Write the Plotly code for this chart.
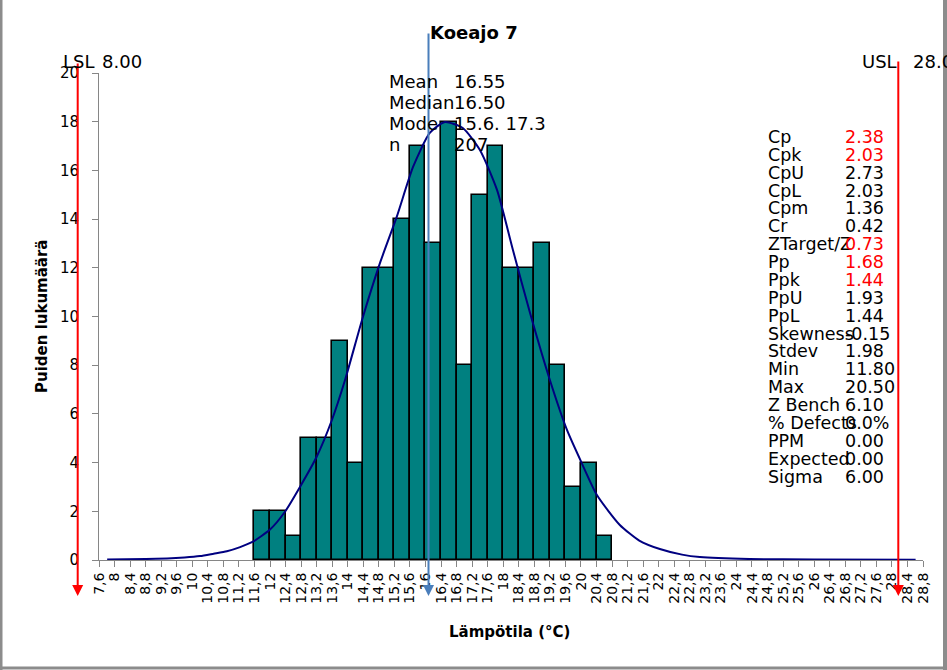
import plotly.graph_objects as go

# ---------------- data ----------------
tick_labels = ["7,6", "8", "8,4", "8,8", "9,2", "9,6", "10", "10,4", "10,8", "11,2",
               "11,6", "12", "12,4", "12,8", "13,2", "13,6", "14", "14,4", "14,8", "15,2",
               "15,6", "16", "16,4", "16,8", "17,2", "17,6", "18", "18,4", "18,8", "19,2",
               "19,6", "20", "20,4", "20,8", "21,2", "21,6", "22", "22,4", "22,8", "23,2",
               "23,6", "24", "24,4", "24,8", "25,2", "25,6", "26", "26,4", "26,8", "27,2",
               "27,6", "28", "28,4", "28,8"]

bin_lower = [11.6, 12.0, 12.4, 12.8, 13.2, 13.6, 14.0, 14.4, 14.8, 15.2, 15.6, 16.0,
             16.4, 16.8, 17.2, 17.6, 18.0, 18.4, 18.8, 19.2, 19.6, 20.0, 20.4]
bin_counts = [2, 2, 1, 5, 5, 9, 4, 12, 12, 14, 17, 13, 18, 8, 15, 17, 12, 12, 13, 8, 3, 4, 1]
bin_width = 0.4

curve_x = [7.81, 8.80, 9.35, 9.80, 10.20, 10.55, 10.89, 11.23, 11.56, 12.00, 12.38,
           12.77, 13.20, 13.59, 13.93, 14.39, 14.83, 15.26, 15.68, 16.11, 16.50, 16.96,
           17.40, 17.84, 18.25, 18.69, 19.20, 19.64, 20.02, 20.41, 21.00, 21.50, 22.03,
           22.60, 23.06, 24.34, 26.00, 28.61]
curve_y = [0.02, 0.04, 0.06, 0.10, 0.16, 0.26, 0.36, 0.53, 0.75, 1.25, 1.97,
           3.00, 4.24, 5.74, 7.39, 9.98, 12.20, 14.09, 16.14, 17.54, 17.99, 17.74,
           16.84, 15.20, 12.73, 10.14, 7.39, 5.34, 3.98, 2.67, 1.44, 0.80, 0.45,
           0.22, 0.12, 0.04, 0.02, 0.01]

LSL = 8.00
USL = 28.00
MEAN = 16.55

summary_labels = ["Mean", "Median", "Mode", "n"]
summary_values = ["16.55", "16.50", "15.6. 17.3", "207"]

stat_labels = ["Cp", "Cpk", "CpU", "CpL", "Cpm", "Cr", "ZTarget/Z", "Pp", "Ppk", "PpU",
               "PpL", "Skewness", "Stdev", "Min", "Max", "Z Bench", "% Defects", "PPM",
               "Expected", "Sigma"]
stat_values = ["2.38", "2.03", "2.73", "2.03", "1.36", "0.42", "0.73", "1.68", "1.44", "1.93",
               "1.44", "-0.15", "1.98", "11.80", "20.50", "6.10", "0.0%", "0.00",
               "0.00", "6.00"]
stat_red = ["Cp", "Cpk", "ZTarget/Z", "Pp", "Ppk"]

tick_vals = [float(t.replace(",", ".")) for t in tick_labels]

# ---------------- layout helpers ----------------
W, H = 947, 670
ML, MR = 40, 947          # paper (margin box) horizontal extent in pixels
PL, PR, PT, PB = 99, 923, 73, 560   # main plot area in pixels

# spec-limit axis: value -> pixel is 77.7 + (v - 8) * 41.03
X2_LO = 8 + (ML - 77.7) / 41.03
X2_HI = 8 + (MR - 77.7) / 41.03


def px(x):
    return (x - ML) / (MR - ML)


def py(y):
    return (PB - y) / (PB - PT)


FONT = "DejaVu Sans"

fig = go.Figure()

fig.add_trace(go.Bar(
    x=bin_lower, y=bin_counts, width=bin_width, offset=0,
    marker=dict(color="#008080", line=dict(color="#000000", width=1.6)),
    hoverinfo="skip", showlegend=False,
))

fig.add_trace(go.Scatter(
    x=curve_x, y=curve_y, mode="lines",
    line=dict(color="#000080", width=2, shape="spline", smoothing=0.6),
    hoverinfo="skip", showlegend=False,
))

# invisible trace on the spec-limit axes
fig.add_trace(go.Scatter(
    x=[LSL, USL], y=[0, 0], xaxis="x2", yaxis="y2", mode="markers",
    marker=dict(opacity=0), hoverinfo="skip", showlegend=False,
))

annotations = []


def varrow(xval, top, tip, color):
    return dict(x=xval, xref="x2", y=py(tip), yref="paper",
                ax=0, ay=-(tip - top), axref="pixel", ayref="pixel",
                showarrow=True, arrowhead=2, arrowsize=1.1, arrowwidth=2,
                arrowcolor=color, text="", standoff=0, startstandoff=0)


annotations.append(varrow(LSL, 62, 596, "#ff0000"))
annotations.append(varrow(USL, 60, 596, "#ff0000"))
annotations.append(varrow(MEAN, 32, 596, "#4a7ebb"))


def txt(x, y, s, size=18, color="black", bold=False, xanchor="left", angle=0):
    return dict(x=px(x), y=py(y), xref="paper", yref="paper", text=s,
                showarrow=False, xanchor=xanchor, yanchor="middle", textangle=angle,
                font=dict(family=FONT, size=size, color=color,
                          weight="bold" if bold else "normal"))


annotations.append(txt(61, 61, "LSL"))
annotations.append(txt(100, 61, f"{LSL:.2f}"))
annotations.append(txt(860, 61, "USL"))
annotations.append(txt(911, 61, f"{USL:.2f}"))

for i, (lab, val) in enumerate(zip(summary_labels, summary_values)):
    y = 81 + i * 21.3
    annotations.append(txt(387, y, lab))
    annotations.append(txt(452, y, val))

for i, (lab, val) in enumerate(zip(stat_labels, stat_values)):
    y = 137 + i * 17.87
    annotations.append(txt(766, y, lab, size=17.5))
    annotations.append(txt(843, y, val, size=17.5,
                           color="#ff0000" if lab in stat_red else "black"))

annotations.append(txt(474, 33, "Koeajo 7", size=18, bold=True, xanchor="center"))
annotations.append(txt(509, 632, "Lämpötila (°C)", size=15, bold=True, xanchor="center"))
annotations.append(txt(42, 316, "Puiden lukumäärä", size=15, bold=True, xanchor="center", angle=-90))

shapes = [
    dict(type="line", xref="paper", yref="paper", x0=px(1), x1=px(1), y0=py(0), y1=py(H),
         line=dict(color="#8c8c8c", width=3)),
    dict(type="line", xref="paper", yref="paper", x0=px(945), x1=px(945), y0=py(0), y1=py(H),
         line=dict(color="#8c8c8c", width=4)),
    dict(type="line", xref="paper", yref="paper", x0=px(0), x1=px(W), y0=py(668), y1=py(668),
         line=dict(color="#8c8c8c", width=3)),
]

axis_common = dict(showgrid=False, zeroline=False, showline=True, linecolor="#868686",
                   linewidth=1, ticks="outside", ticklen=6, tickcolor="#868686",
                   tickwidth=1, automargin=False)

fig.update_layout(
    width=W, height=H,
    margin=dict(l=ML, r=W - MR, t=PT, b=H - PB, pad=0, autoexpand=False),
    paper_bgcolor="white", plot_bgcolor="rgba(0,0,0,0)",
    showlegend=False, bargap=0,
    xaxis=dict(domain=[px(PL), px(PR)], anchor="y", range=[7.6, 28.8], tickmode="array",
               tickvals=tick_vals, ticktext=tick_labels, tickangle=-90,
               tickfont=dict(family=FONT, size=14, color="black"), **axis_common),
    yaxis=dict(domain=[0, 1], anchor="x", range=[0, 20], dtick=2, tick0=0,
               ticklabelstandoff=10,
               tickfont=dict(family=FONT, size=15, color="black"), **axis_common),
    xaxis2=dict(domain=[0, 1], anchor="y2", range=[X2_LO, X2_HI], visible=False,
                automargin=False),
    yaxis2=dict(domain=[0, 1], anchor="x2", range=[0, 20], visible=False,
                automargin=False),
    annotations=annotations,
    shapes=shapes,
)

fig.write_html("out.html",
               config={"displayModeBar": False},
               post_script="document.body.style.margin='0px';"
                           "document.documentElement.style.overflow='hidden';")
